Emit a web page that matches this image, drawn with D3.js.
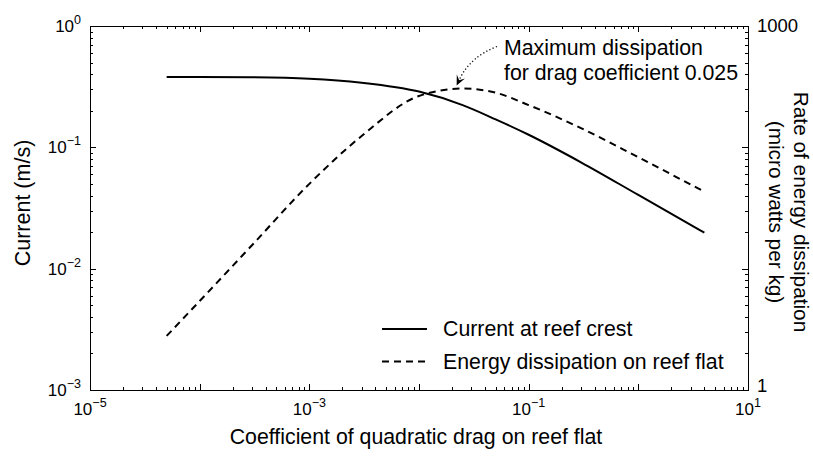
<!DOCTYPE html>
<html>
<head>
<meta charset="utf-8">
<script src="https://cdn.jsdelivr.net/npm/d3@7"></script>
<style>
  html, body { margin: 0; padding: 0; background: #fff; }
  svg text { font-family: "Liberation Sans", Arial, Helvetica, sans-serif; fill: #000; }
</style>
</head>
<body>
<svg id="chart" width="813" height="461"></svg>
<script>
// Drag coefficient on the reef flat (x) and the two modelled responses
const dragCoef     = [5e-5, 1e-4, 3e-4, 1e-3, 3e-3, 0.01, 0.025, 0.05, 0.1, 0.3, 1, 4];
const crestCurrent = [0.38, 0.38, 0.378, 0.368, 0.341, 0.288, 0.223, 0.170, 0.127, 0.0753, 0.0405, 0.0198]; // m/s
const dissipation  = [2.79, 5.41, 15.6, 50, 124, 265, 305, 282, 223, 144, 82.8, 43.1];                      // µW/kg

// Axis ticks and labels
const xLabelExps    = [-5, -3, -1, 1];
const leftLabelExps = [0, -1, -2, -3];
const rightTicks    = [1, 10, 100, 1000];
const rightLabels   = ["1", "", "", "1000"];

const seriesNames = ["Current at reef crest", "Energy dissipation on reef flat"];
const noteLines   = ["Maximum dissipation", "for drag coefficient 0.025"];
const peakDrag    = 0.025;

const xTitle      = "Coefficient of quadratic drag on reef flat";
const leftTitle   = "Current (m/s)";
const rightTitle  = ["Rate of energy dissipation", "(micro watts per kg)"];

const svg = d3.select("#chart");
const L = 90, R = 748, T = 26, B = 390;

const x  = d3.scaleLog().domain([1e-5, 10]).range([L, R]);
const yL = d3.scaleLog().domain([1e-3, 1]).range([B, T]);
const yR = d3.scaleLog().domain([1, 1000]).range([B, T]);

const isPow10 = v => Math.abs(Math.log10(v) - Math.round(Math.log10(v))) < 1e-9;
const split = s => ({ major: s.ticks().filter(isPow10), minor: s.ticks().filter(v => !isPow10(v)) });

// box axes with inward major/minor ticks
function drawAxis(gen, scale, tr) {
  const t = split(scale);
  const g = svg.append("g").attr("transform", tr);
  g.call(gen(scale).tickValues(t.major).tickSize(-6).tickSizeOuter(0).tickFormat(""));
  g.append("g").call(gen(scale).tickValues(t.minor).tickSize(-3).tickSizeOuter(0).tickFormat(""))
    .select(".domain").remove();
  g.selectAll("path, line").attr("stroke", "#000").attr("stroke-width", 1).attr("shape-rendering", "crispEdges");
  return g;
}
drawAxis(d3.axisBottom, x, `translate(0,${B})`);
drawAxis(d3.axisTop, x, `translate(0,${T})`);
drawAxis(d3.axisLeft, yL, `translate(${L},0)`);
drawAxis(d3.axisRight, yR, `translate(${R},0)`);

// power-of-ten labels
function powText(sel, exp) {
  sel.append("tspan").text("10");
  sel.append("tspan").attr("dy", -8).attr("font-size", 12.5)
     .text(exp < 0 ? "\u2212" + Math.abs(exp) : String(exp));
}
xLabelExps.forEach(e => {
  svg.append("text").attr("x", x(Math.pow(10, e))).attr("y", 415)
     .attr("text-anchor", "middle").attr("font-size", 17).call(powText, e);
});
leftLabelExps.forEach(e => {
  svg.append("text").attr("x", 81).attr("y", yL(Math.pow(10, e)) + 6)
     .attr("text-anchor", "end").attr("font-size", 17).call(powText, e);
});
// the lowest right label sits a little higher so it clears the x labels
rightTicks.forEach((v, i) => {
  if (!rightLabels[i]) return;
  svg.append("text").attr("x", 757).attr("y", yR(v) + (i === 0 ? 2 : 6))
     .attr("font-size", 18.5).text(rightLabels[i]);
});

// axis titles
svg.append("text").attr("x", (L + R) / 2 - 3).attr("y", 444).attr("text-anchor", "middle")
   .attr("font-size", 21.3).text(xTitle);
svg.append("text").attr("transform", `translate(30,${(T + B) / 2 - 5}) rotate(-90)`)
   .attr("text-anchor", "middle").attr("font-size", 21.5).text(leftTitle);
rightTitle.forEach((s, i) => {
  svg.append("text").attr("transform", `translate(${794 - i * 25},${(T + B) / 2 + 4}) rotate(90)`)
     .attr("text-anchor", "middle").attr("font-size", 20.8).text(s);
});

// series
const rows = dragCoef.map((c, i) => ({ c, u: crestCurrent[i], e: dissipation[i] }));
const lineU = d3.line().x(d => x(d.c)).y(d => yL(d.u)).curve(d3.curveMonotoneX);
const lineE = d3.line().x(d => x(d.c)).y(d => yR(d.e)).curve(d3.curveMonotoneX);
const dash = "7,5";

svg.append("path").datum(rows).attr("d", lineU)
   .attr("fill", "none").attr("stroke", "#000").attr("stroke-width", 2);
svg.append("path").datum(rows).attr("d", lineE)
   .attr("fill", "none").attr("stroke", "#000").attr("stroke-width", 2).attr("stroke-dasharray", dash);

// legend
const legY = [329, 361.5];
seriesNames.forEach((name, i) => {
  svg.append("line").attr("x1", 382).attr("x2", 427).attr("y1", legY[i]).attr("y2", legY[i])
     .attr("stroke", "#000").attr("stroke-width", 2).attr("stroke-dasharray", i ? dash : null);
  svg.append("text").attr("x", 443).attr("y", legY[i] + 7).attr("font-size", 21.3).text(name);
});

// annotation pointing at the dissipation peak
const peakE = dissipation[dragCoef.indexOf(peakDrag)];
const tip = [x(peakDrag) - 6, yR(peakE) - 3];
const start = [497, 46.5], ctrl = [470, 57];
const dir = [tip[0] - ctrl[0], tip[1] - ctrl[1]];
const len = Math.hypot(dir[0], dir[1]);
const ux = dir[0] / len, uy = dir[1] / len, px = -uy, py = ux;
const headL = 10, headW = 4.5;
const base = [tip[0] - ux * headL, tip[1] - uy * headL];
svg.append("path")
   .attr("d", `M${start}Q${ctrl} ${base[0] + ux * 3},${base[1] + uy * 3}`)
   .attr("fill", "none").attr("stroke", "#000").attr("stroke-width", 1.3)
   .attr("stroke-dasharray", "1.2,2.3");
svg.append("path")
   .attr("d", `M${tip}L${base[0] + px * headW},${base[1] + py * headW}` +
              `L${tip[0] - ux * headL * 0.6},${tip[1] - uy * headL * 0.6}` +
              `L${base[0] - px * headW},${base[1] - py * headW}Z`)
   .attr("fill", "#000");
noteLines.forEach((s, i) => {
  svg.append("text").attr("x", 504).attr("y", 55 + i * 25).attr("font-size", 21.3).text(s);
});
</script>
</body>
</html>
